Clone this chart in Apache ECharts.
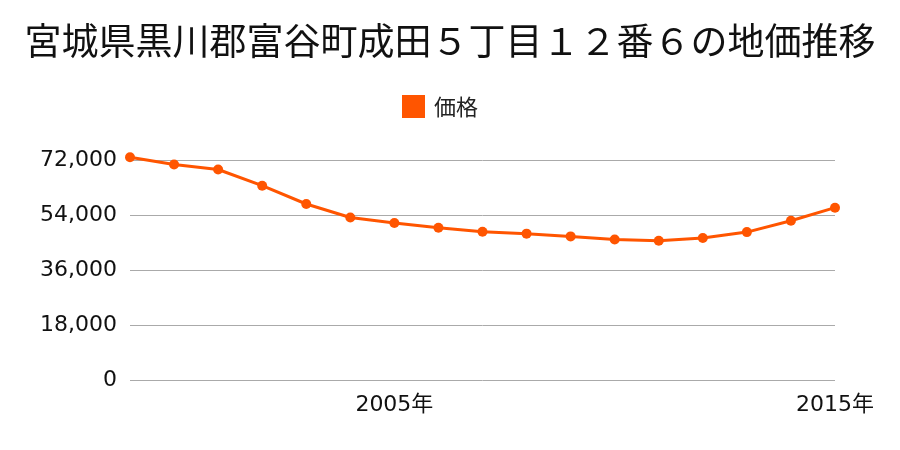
<!DOCTYPE html>
<html><head><meta charset="utf-8">
<script src="https://cdn.jsdelivr.net/npm/echarts@6/dist/echarts.min.js"></script>
<style>html,body{margin:0;padding:0;background:#fff}#c{width:900px;height:450px}</style>
</head><body><div id="c"></div>
<script>
const title = '宮城県黒川郡富谷町成田５丁目１２番６の地価推移';
const seriesName = '価格';
const years = ['1999','2000','2001','2002','2003','2004','2005','2006','2007','2008','2009','2010','2011','2012','2013','2014','2015'];
const prices = [72900,70500,68900,63600,57600,53200,51400,49800,48500,47900,47000,46000,45600,46500,48400,52100,56400];
const shownYears = ['2005','2015'];
const yTicks = [0,18000,36000,54000,72000];

const chart = echarts.init(document.getElementById('c'));
const font = '"Noto Sans CJK JP","Noto Sans",sans-serif';
const numFont = '"DejaVu Sans","Noto Sans CJK JP",sans-serif';
chart.setOption({
  animation:false,
  textStyle:{fontFamily:font},
  title:{text:title,left:'center',top:17,textStyle:{fontSize:37,fontWeight:'normal',color:'#111',fontFamily:font}},
  legend:{data:[seriesName],top:90,left:397,itemWidth:23,itemHeight:23,icon:'rect',
    textStyle:{fontSize:22,color:'#222',fontFamily:font,padding:[0,0,0,4]}},
  grid:{left:130,right:65,top:160,bottom:70,containLabel:false},
  xAxis:{type:'category',data:years,boundaryGap:false,
    axisLine:{show:false},axisTick:{show:false},
    axisLabel:{interval:0,fontSize:22,color:'#111',margin:14,fontFamily:numFont,
      formatter:v=>shownYears.includes(v)?v+'年':''},
    splitLine:{show:false}},
  yAxis:{type:'value',min:yTicks[0],max:yTicks[yTicks.length-1],interval:18000,
    axisLine:{show:false},axisTick:{show:false},
    axisLabel:{fontSize:22,color:'#111',margin:13,fontFamily:numFont,padding:[3,0,0,0],formatter:v=>v.toLocaleString('en-US')},
    splitLine:{lineStyle:{color:'#aaa',width:1}}},
  series:[{name:seriesName,type:'line',data:prices,color:'#ff5500',clip:false,
    symbol:'circle',symbolSize:10,lineStyle:{width:3,color:'#ff5500'},itemStyle:{color:'#ff5500'}}]
});
</script></body></html>
